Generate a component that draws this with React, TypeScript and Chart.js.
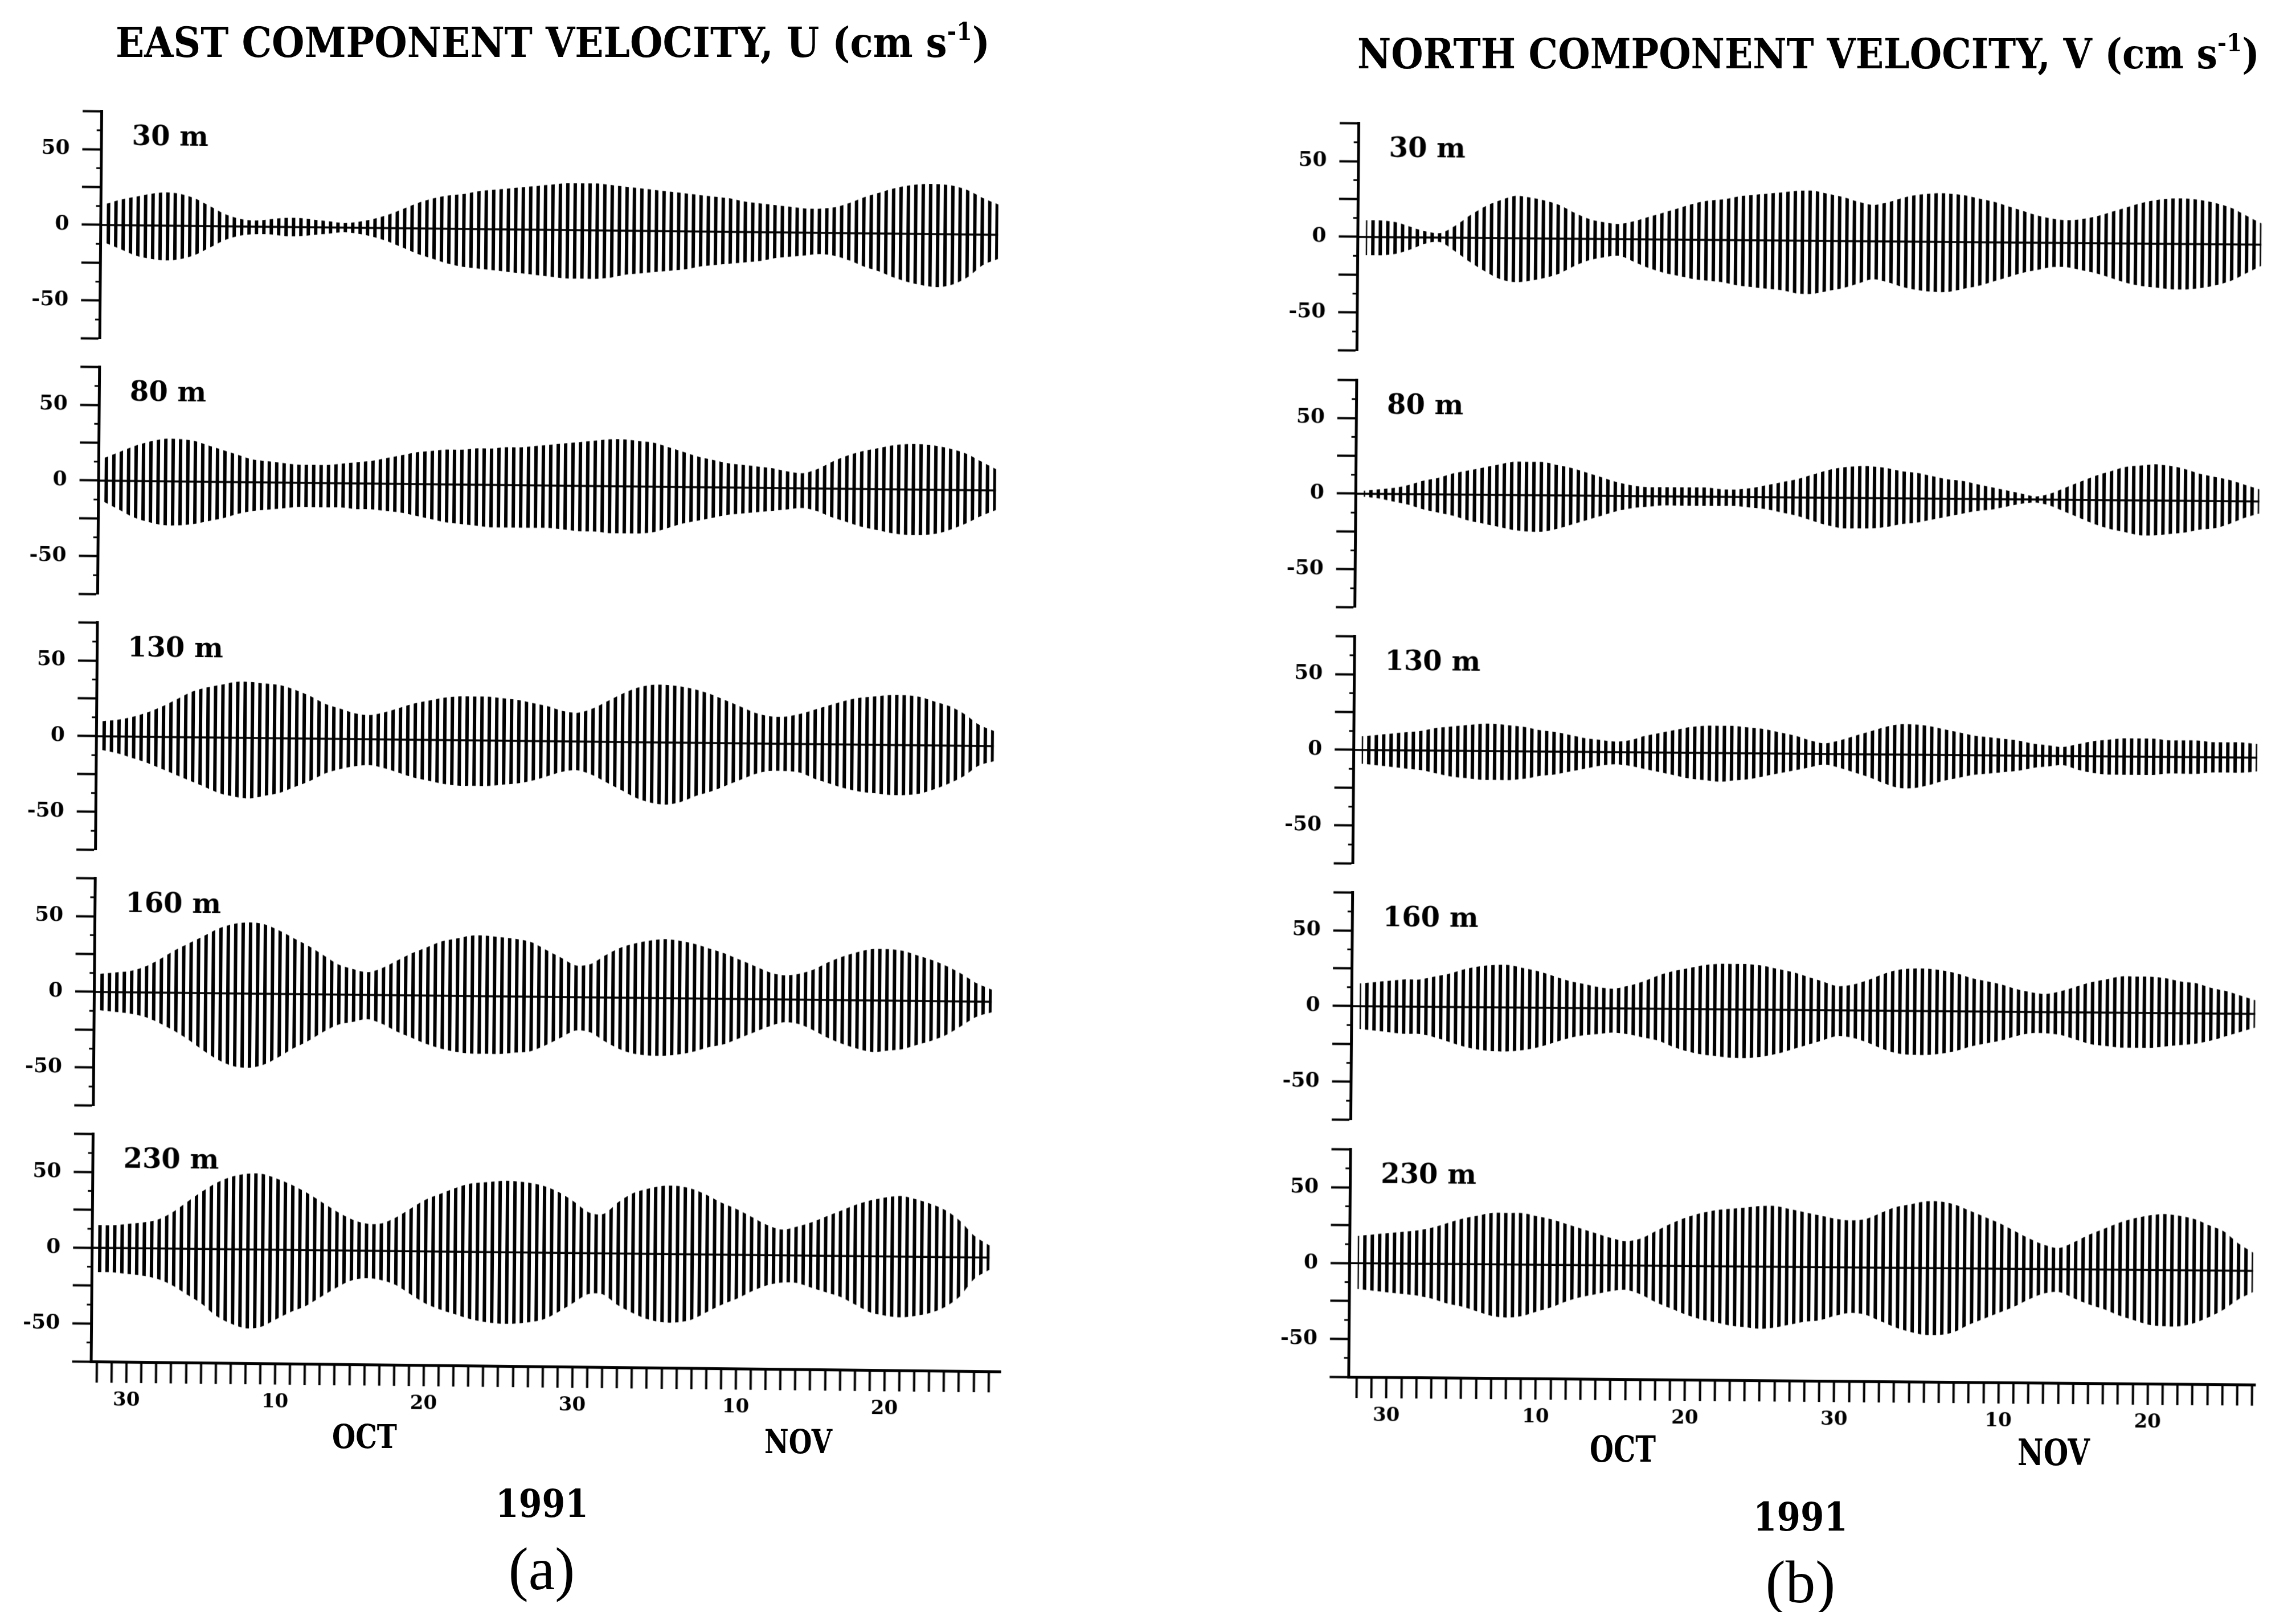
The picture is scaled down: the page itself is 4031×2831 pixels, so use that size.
import React, { useEffect, useLayoutEffect, useRef } from "react";
import { Chart, registerables } from "chart.js";

Chart.register(...registerables);

// ---------------- data ----------------
// day number counted from Aug 31, 1991 (Sep 30 = 30, Oct 10 = 40, Oct 30 = 60, Nov 10 = 71, Nov 20 = 81)
const DAYS = [
  28, 29, 30, 31, 32, 33, 34, 35, 36, 37, 38, 39, 40, 41, 42, 43, 44, 45, 46, 47,
  48, 49, 50, 51, 52, 53, 54, 55, 56, 57, 58, 59, 60, 61, 62, 63, 64, 65, 66, 67,
  68, 69, 70, 71, 72, 73, 74, 75, 76, 77, 78, 79, 80, 81, 82, 83, 84, 85, 86, 87, 88,
];
const X_TICK_LABELS: Record<number, string> = { 30: "30", 40: "10", 50: "20", 60: "30", 71: "10", 81: "20" };
const Y_TICKS = [-75, -50, -25, 0, 25, 50, 75];
const Y_TICK_LABELS: Record<number, string> = { 50: "50", 0: "0", "-50": "-50" };
const Y_MINOR = [-62.5, -37.5, -12.5, 12.5, 37.5, 62.5];
const DEPTHS = ["30 m", "80 m", "130 m", "160 m", "230 m"];

// East component U (cm/s): upper / lower envelope of the tidal oscillation, one value per day
const U30_HI = [14, 17, 19, 21, 22, 21, 18, 13, 8, 5, 4, 5, 6, 6, 5, 4, 3, 4, 6, 9, 13, 17, 20, 22, 23, 25, 26, 27, 28, 29, 30, 31, 31, 31, 30, 29, 28, 27, 26, 25, 24, 23, 22, 20, 19, 18, 17, 16, 16, 17, 20, 24, 27, 30, 32, 33, 33, 32, 29, 24, 20];
const U30_LO = [-12, -16, -20, -22, -23, -22, -19, -14, -9, -6, -5, -5, -6, -6, -5, -4, -3, -4, -6, -9, -13, -17, -20, -23, -25, -26, -27, -28, -29, -30, -31, -32, -32, -32, -31, -29, -28, -27, -26, -25, -23, -22, -21, -20, -19, -17, -16, -15, -14, -15, -18, -22, -25, -29, -32, -34, -35, -33, -28, -20, -16];
const U80_HI = [15, 19, 23, 26, 28, 28, 27, 24, 21, 18, 15, 14, 13, 12, 12, 12, 13, 14, 15, 17, 19, 21, 22, 23, 23, 24, 24, 25, 25, 26, 27, 28, 29, 30, 31, 31, 30, 29, 26, 23, 20, 18, 16, 15, 14, 13, 11, 10, 13, 18, 22, 25, 27, 29, 30, 30, 29, 27, 24, 19, 14];
const U80_LO = [-14, -19, -24, -27, -29, -29, -28, -26, -24, -21, -19, -18, -17, -16, -16, -16, -16, -17, -17, -18, -19, -21, -23, -25, -26, -27, -28, -28, -28, -28, -28, -29, -30, -30, -31, -31, -31, -30, -27, -24, -22, -20, -18, -17, -16, -15, -14, -13, -15, -19, -22, -25, -27, -29, -30, -30, -29, -26, -22, -17, -13];
const U130_HI = [10, 11, 13, 16, 20, 25, 30, 33, 35, 37, 37, 36, 35, 32, 28, 23, 20, 17, 16, 18, 21, 24, 26, 28, 29, 29, 29, 28, 27, 25, 23, 20, 19, 22, 27, 32, 36, 38, 38, 37, 35, 32, 28, 24, 20, 18, 18, 20, 23, 26, 29, 31, 32, 33, 33, 32, 29, 26, 21, 14, 10];
const U130_LO = [-9, -11, -14, -17, -21, -25, -29, -33, -37, -39, -40, -38, -36, -32, -28, -23, -20, -18, -17, -19, -22, -25, -27, -29, -30, -30, -30, -29, -28, -26, -23, -20, -19, -22, -27, -32, -37, -40, -41, -39, -35, -32, -28, -24, -20, -18, -18, -19, -23, -26, -29, -31, -32, -33, -33, -32, -29, -25, -20, -13, -10];
const U160_HI = [12, 13, 14, 17, 22, 28, 33, 38, 43, 46, 47, 46, 42, 37, 32, 26, 20, 17, 15, 18, 23, 28, 32, 36, 38, 40, 40, 39, 38, 36, 31, 26, 21, 22, 28, 33, 36, 38, 39, 38, 36, 33, 30, 26, 22, 18, 16, 17, 20, 25, 29, 32, 34, 34, 33, 30, 27, 23, 18, 12, 8];
const U160_LO = [-12, -13, -14, -16, -20, -25, -31, -38, -44, -48, -49, -47, -42, -36, -31, -25, -20, -18, -16, -19, -24, -28, -32, -35, -37, -38, -38, -38, -37, -36, -32, -27, -22, -23, -29, -34, -37, -38, -38, -37, -35, -32, -30, -26, -22, -18, -15, -16, -20, -25, -29, -32, -34, -33, -32, -29, -26, -22, -16, -10, -7];
const U230_HI = [15, 15, 16, 17, 19, 24, 31, 38, 44, 48, 50, 50, 47, 43, 38, 32, 26, 21, 18, 18, 22, 28, 34, 38, 42, 45, 46, 47, 47, 46, 44, 40, 34, 27, 26, 34, 40, 43, 45, 45, 43, 39, 34, 30, 25, 20, 17, 19, 22, 26, 30, 34, 37, 39, 40, 38, 35, 31, 24, 14, 8];
const U230_LO = [-16, -16, -17, -18, -20, -24, -30, -36, -44, -49, -52, -51, -46, -41, -37, -31, -25, -20, -18, -19, -22, -28, -34, -38, -41, -44, -46, -47, -47, -46, -44, -39, -33, -27, -27, -34, -39, -43, -45, -45, -43, -38, -33, -29, -24, -20, -18, -18, -21, -24, -27, -32, -37, -39, -40, -39, -37, -33, -26, -14, -8];

// North component V (cm/s)
const V30_HI = [11, 11, 10, 7, 4, 3, 8, 15, 21, 25, 28, 27, 25, 22, 17, 13, 11, 10, 12, 15, 18, 21, 24, 26, 27, 29, 30, 31, 32, 33, 33, 31, 29, 26, 24, 26, 29, 31, 32, 32, 31, 29, 27, 24, 21, 18, 16, 15, 16, 18, 21, 24, 27, 29, 30, 30, 29, 27, 24, 19, 14];
const V30_LO = [-12, -12, -11, -8, -4, -3, -9, -16, -22, -27, -29, -28, -26, -23, -18, -14, -12, -11, -15, -19, -22, -24, -26, -27, -28, -30, -31, -32, -33, -35, -35, -33, -31, -28, -25, -27, -30, -32, -33, -33, -31, -29, -26, -23, -20, -18, -16, -16, -18, -20, -23, -26, -28, -29, -30, -30, -29, -27, -24, -19, -14];
const V80_HI = [2, 3, 4, 6, 9, 11, 14, 16, 18, 20, 22, 22, 22, 20, 18, 15, 12, 9, 7, 6, 6, 6, 6, 6, 5, 5, 6, 8, 10, 12, 15, 18, 20, 21, 21, 20, 18, 17, 15, 13, 12, 10, 8, 6, 4, 2, 4, 8, 12, 16, 19, 22, 23, 24, 23, 21, 18, 16, 14, 11, 8];
const V80_LO = [-2, -3, -5, -7, -10, -12, -14, -17, -19, -21, -23, -24, -24, -22, -19, -16, -13, -10, -8, -7, -6, -6, -6, -6, -6, -6, -7, -8, -10, -12, -15, -18, -20, -20, -20, -19, -17, -16, -14, -12, -10, -8, -7, -5, -3, -2, -4, -8, -12, -16, -19, -21, -23, -23, -22, -21, -19, -18, -15, -11, -8];
const V130_HI = [9, 10, 11, 12, 13, 15, 16, 17, 18, 18, 17, 16, 14, 13, 11, 9, 8, 7, 8, 11, 13, 15, 17, 18, 18, 18, 17, 16, 14, 12, 9, 7, 9, 12, 15, 18, 20, 20, 19, 17, 15, 13, 12, 11, 10, 8, 7, 6, 8, 10, 11, 12, 12, 12, 11, 11, 11, 10, 10, 10, 9];
const V130_LO = [-9, -10, -11, -12, -13, -15, -17, -18, -19, -19, -19, -18, -16, -15, -13, -11, -9, -8, -9, -11, -13, -15, -17, -18, -19, -18, -17, -15, -13, -11, -9, -7, -9, -12, -15, -19, -22, -22, -20, -17, -15, -13, -12, -11, -10, -8, -7, -6, -9, -11, -12, -12, -12, -12, -11, -11, -11, -10, -10, -10, -9];
const V160_HI = [15, 16, 17, 18, 18, 20, 22, 25, 27, 28, 28, 26, 24, 21, 18, 16, 14, 13, 15, 18, 22, 25, 27, 29, 30, 30, 30, 29, 27, 25, 22, 19, 16, 17, 20, 24, 27, 28, 28, 27, 25, 22, 20, 18, 15, 13, 12, 14, 17, 20, 22, 24, 24, 24, 23, 21, 20, 17, 15, 12, 9];
const V160_LO = [-15, -16, -17, -18, -18, -20, -23, -26, -28, -29, -29, -28, -26, -23, -20, -18, -17, -16, -17, -19, -21, -25, -28, -30, -31, -32, -32, -31, -29, -26, -23, -20, -17, -18, -21, -25, -28, -29, -29, -28, -26, -23, -21, -19, -16, -14, -14, -15, -18, -21, -22, -23, -23, -23, -22, -21, -20, -18, -15, -12, -9];
const V230_HI = [18, 19, 20, 21, 22, 24, 27, 30, 32, 34, 34, 34, 32, 30, 27, 24, 21, 18, 16, 18, 23, 28, 32, 35, 37, 38, 39, 40, 40, 38, 36, 34, 32, 31, 32, 36, 40, 42, 44, 44, 42, 38, 34, 30, 25, 20, 16, 14, 18, 23, 27, 31, 34, 36, 37, 36, 34, 30, 26, 18, 12];
const V230_LO = [-17, -18, -19, -20, -21, -23, -26, -28, -31, -34, -35, -34, -31, -28, -24, -21, -19, -17, -16, -19, -24, -28, -32, -35, -37, -39, -40, -41, -40, -38, -36, -35, -32, -30, -31, -35, -39, -42, -44, -44, -42, -37, -33, -29, -25, -20, -16, -15, -19, -23, -26, -30, -33, -36, -37, -37, -35, -31, -26, -19, -14];

const U_HI = [U30_HI, U80_HI, U130_HI, U160_HI, U230_HI];
const U_LO = [U30_LO, U80_LO, U130_LO, U160_LO, U230_LO];
const V_HI = [V30_HI, V80_HI, V130_HI, V160_HI, V230_HI];
const V_LO = [V30_LO, V80_LO, V130_LO, V160_LO, V230_LO];

// ---------------- layout ----------------
const FONT = '"DejaVu Serif", "Liberation Serif", serif';
const AXIS_W = 158;
const PLOT_H = 399;
const XAXIS_H = 95;

type ColumnGeom = {
  axisX: number;
  zeros: number[];
  xMin: number;
  xMax: number;
  plotW: number;
  origin: string;
  matrix: string;
};

const COL_A: ColumnGeom = {
  axisX: 178,
  zeros: [395, 844, 1293, 1742, 2191],
  xMin: 27.6,
  xMax: 88.8,
  plotW: 1597,
  origin: "178px 195px",
  matrix: "matrix(1, 0.011, -0.0084, 1, 0, 0)",
};
const COL_B: ColumnGeom = {
  axisX: 2385,
  zeros: [416, 867, 1317, 1767, 2218],
  xMin: 27.45,
  xMax: 88.2,
  plotW: 1592,
  origin: "2385px 214px",
  matrix: "matrix(1, 0.0086, -0.008, 1, 0, 0)",
};

const panelDecor = {
  id: "panelDecor",
  afterDraw(chart: any, _args: any, opts: any) {
    const { ctx, chartArea } = chart;
    const ys = chart.scales.y;
    ctx.save();
    ctx.strokeStyle = "#000";
    ctx.lineWidth = 3;
    for (const v of Y_MINOR) {
      const py = ys.getPixelForValue(v);
      ctx.beginPath();
      ctx.moveTo(chartArea.left - 8, py);
      ctx.lineTo(chartArea.left, py);
      ctx.stroke();
    }
    ctx.fillStyle = "#000";
    ctx.font = `bold 48px ${FONT}`;
    ctx.textBaseline = "alphabetic";
    ctx.textAlign = "left";
    ctx.fillText(opts.label, chartArea.left + 54, chartArea.top + 58);
    ctx.restore();
  },
};

function makeStripes(): CanvasPattern | string {
  const pc = document.createElement("canvas");
  pc.width = 13;
  pc.height = 4;
  const pctx = pc.getContext("2d");
  if (!pctx) return "#444";
  pctx.fillStyle = "#000";
  pctx.fillRect(0, 0, 6, 4);
  return pctx.createPattern(pc, "repeat") || "#444";
}

function Panel(props: {
  geom: ColumnGeom;
  index: number;
  hi: number[];
  lo: number[];
  depth: string;
  showX: boolean;
}) {
  const { geom, index, hi, lo, depth, showX } = props;
  const ref = useRef<HTMLCanvasElement>(null);
  const zeroY = geom.zeros[index];

  useEffect(() => {
    const canvas = ref.current as HTMLCanvasElement;
    const stripes = makeStripes();
    const hiPts = DAYS.map((d, i) => ({ x: d, y: hi[i] }));
    const loPts = DAYS.map((d, i) => ({ x: d, y: lo[i] }));
    const zero = [
      { x: geom.xMin, y: 0 },
      { x: DAYS[DAYS.length - 1], y: 0 },
    ];
    const makeConfig = () => ({
      type: "line",
      data: {
        datasets: [
          {
            data: hiPts,
            borderColor: "rgba(0,0,0,0)",
            borderWidth: 0,
            pointRadius: 0,
            tension: 0.3,
            fill: "+1",
            backgroundColor: stripes,
          },
          {
            data: loPts,
            borderColor: "rgba(0,0,0,0)",
            borderWidth: 0,
            pointRadius: 0,
            tension: 0.3,
            fill: false,
          },
          { data: zero, borderColor: "#000", borderWidth: 3.5, pointRadius: 0, tension: 0, fill: false },
        ],
      },
      options: {
        animation: false,
        responsive: false,
        maintainAspectRatio: false,
        devicePixelRatio: 1,
        events: [],
        layout: { padding: { top: 0, right: 12, bottom: 0, left: 0 } },
        plugins: {
          legend: { display: false },
          tooltip: { enabled: false },
          title: { display: false },
          panelDecor: { label: depth },
        },
        scales: {
          x: {
            type: "linear",
            min: geom.xMin,
            max: geom.xMax,
            display: showX,
            position: "bottom",
            afterBuildTicks: (scale: any) => {
              scale.ticks = DAYS.map((v) => ({ value: v }));
            },
            afterFit: (scale: any) => {
              if (showX) scale.height = XAXIS_H;
            },
            ticks: {
              autoSkip: false,
              maxRotation: 0,
              minRotation: 0,
              padding: 11,
              color: "#000",
              font: { family: FONT, size: 34, weight: "bold" },
              callback: (v: any) => X_TICK_LABELS[Number(v)] ?? "",
            },
            grid: { drawOnChartArea: false, drawTicks: true, tickLength: 37, tickWidth: 4, tickColor: "#000" },
            border: { display: true, width: 5, color: "#000" },
          },
          y: {
            type: "linear",
            min: -75,
            max: 75,
            afterBuildTicks: (scale: any) => {
              scale.ticks = Y_TICKS.map((v) => ({ value: v }));
            },
            afterFit: (scale: any) => {
              scale.width = AXIS_W;
            },
            ticks: {
              autoSkip: false,
              padding: 22,
              color: "#000",
              font: { family: FONT, size: 36, weight: "bold" },
              callback: (v: any) => Y_TICK_LABELS[Number(v)] ?? "",
            },
            grid: { drawOnChartArea: false, drawTicks: true, tickLength: 33, tickWidth: 4, tickColor: "#000" },
            border: { display: true, width: 5, color: "#000" },
          },
        },
      },
      plugins: [panelDecor],
    });

    // first pass: measure how much room Chart.js keeps around the plot area
    const W0 = AXIS_W + geom.plotW + 12;
    const H0 = PLOT_H + 100 + (showX ? XAXIS_H : 0);
    canvas.width = W0;
    canvas.height = H0;
    let chart = new Chart(canvas, makeConfig() as any);
    const ca = chart.chartArea;
    const exL = ca.left;
    const exT = ca.top;
    const exR = W0 - ca.right;
    const exB = H0 - ca.bottom;
    chart.destroy();

    // second pass: size the canvas so that the plot area has the exact scale of the reference
    const W = Math.round(exL + geom.plotW + exR);
    const H = Math.round(exT + PLOT_H + exB);
    canvas.width = W;
    canvas.height = H;
    canvas.style.width = `${W}px`;
    canvas.style.height = `${H}px`;
    canvas.style.left = `${geom.axisX - exL}px`;
    canvas.style.top = `${zeroY - PLOT_H / 2 - exT}px`;
    chart = new Chart(canvas, makeConfig() as any);
    return () => chart.destroy();
  }, []);

  return <canvas ref={ref} style={{ position: "absolute", left: 0, top: 0, display: "block" }} />;
}

function Column(props: { geom: ColumnGeom; hi: number[][]; lo: number[][] }) {
  const { geom, hi, lo } = props;
  return (
    <div
      style={{
        position: "absolute",
        left: 0,
        top: 0,
        width: 4031,
        height: 2831,
        transformOrigin: geom.origin,
        transform: geom.matrix,
      }}
    >
      {DEPTHS.map((d, i) => (
        <Panel key={d} geom={geom} index={i} hi={hi[i]} lo={lo[i]} depth={d} showX={i === DEPTHS.length - 1} />
      ))}
    </div>
  );
}

function FitText(props: {
  left?: number;
  center?: number;
  baseline: number;
  width?: number;
  size: number;
  family: string;
  weight: string;
  children: React.ReactNode;
}) {
  const { left, center, baseline, width, size, family, weight, children } = props;
  const ref = useRef<HTMLDivElement>(null);
  const asc = family.startsWith('"Liberation') ? 0.8375 : 0.846;
  useLayoutEffect(() => {
    const el = ref.current;
    if (!el) return;
    el.style.transform = "none";
    const w = el.getBoundingClientRect().width;
    let s = 1;
    if (width && w > 0) {
      s = width / w;
      el.style.transform = `scaleX(${s})`;
    }
    if (center !== undefined) {
      el.style.left = `${center - (w * s) / 2}px`;
    }
  }, []);
  return (
    <div
      ref={ref}
      style={{
        position: "absolute",
        left: left ?? center ?? 0,
        top: baseline - asc * size,
        fontSize: size,
        lineHeight: `${size}px`,
        fontFamily: family,
        fontWeight: weight as any,
        whiteSpace: "nowrap",
        transformOrigin: "0 0",
        color: "#000",
      }}
    >
      {children}
    </div>
  );
}

const SUP: React.CSSProperties = { fontSize: "0.6em", verticalAlign: "0.7em", lineHeight: 0 };

export default function App() {
  return (
    <div
      style={{
        position: "fixed",
        left: 0,
        top: 0,
        width: 4031,
        height: 2831,
        background: "#fff",
        overflow: "hidden",
      }}
    >
      <Column geom={COL_A} hi={U_HI} lo={U_LO} />
      <Column geom={COL_B} hi={V_HI} lo={V_LO} />

      <FitText left={203} baseline={100} width={1535} size={72} family={FONT} weight="bold">
        EAST COMPONENT VELOCITY, U (cm s<span style={SUP}>-1</span>)
      </FitText>
      <FitText left={2383} baseline={120} width={1584} size={72} family={FONT} weight="bold">
        NORTH COMPONENT VELOCITY, V (cm s<span style={SUP}>-1</span>)
      </FitText>

      <FitText left={583} baseline={2542} width={114} size={57} family={FONT} weight="bold">OCT</FitText>
      <FitText left={1342} baseline={2551} width={119} size={57} family={FONT} weight="bold">NOV</FitText>
      <FitText left={870} baseline={2664} width={163} size={68} family={FONT} weight="bold">1991</FitText>
      <FitText center={951} baseline={2791} size={105} family={'"Liberation Serif", serif'} weight="normal">(a)</FitText>

      <FitText left={2791} baseline={2567} width={116} size={64} family={FONT} weight="bold">OCT</FitText>
      <FitText left={3542} baseline={2573} width={127} size={63} family={FONT} weight="bold">NOV</FitText>
      <FitText left={3078} baseline={2688} width={166} size={70} family={FONT} weight="bold">1991</FitText>
      <FitText center={3161} baseline={2814} size={105} family={'"Liberation Serif", serif'} weight="normal">(b)</FitText>
    </div>
  );
}
